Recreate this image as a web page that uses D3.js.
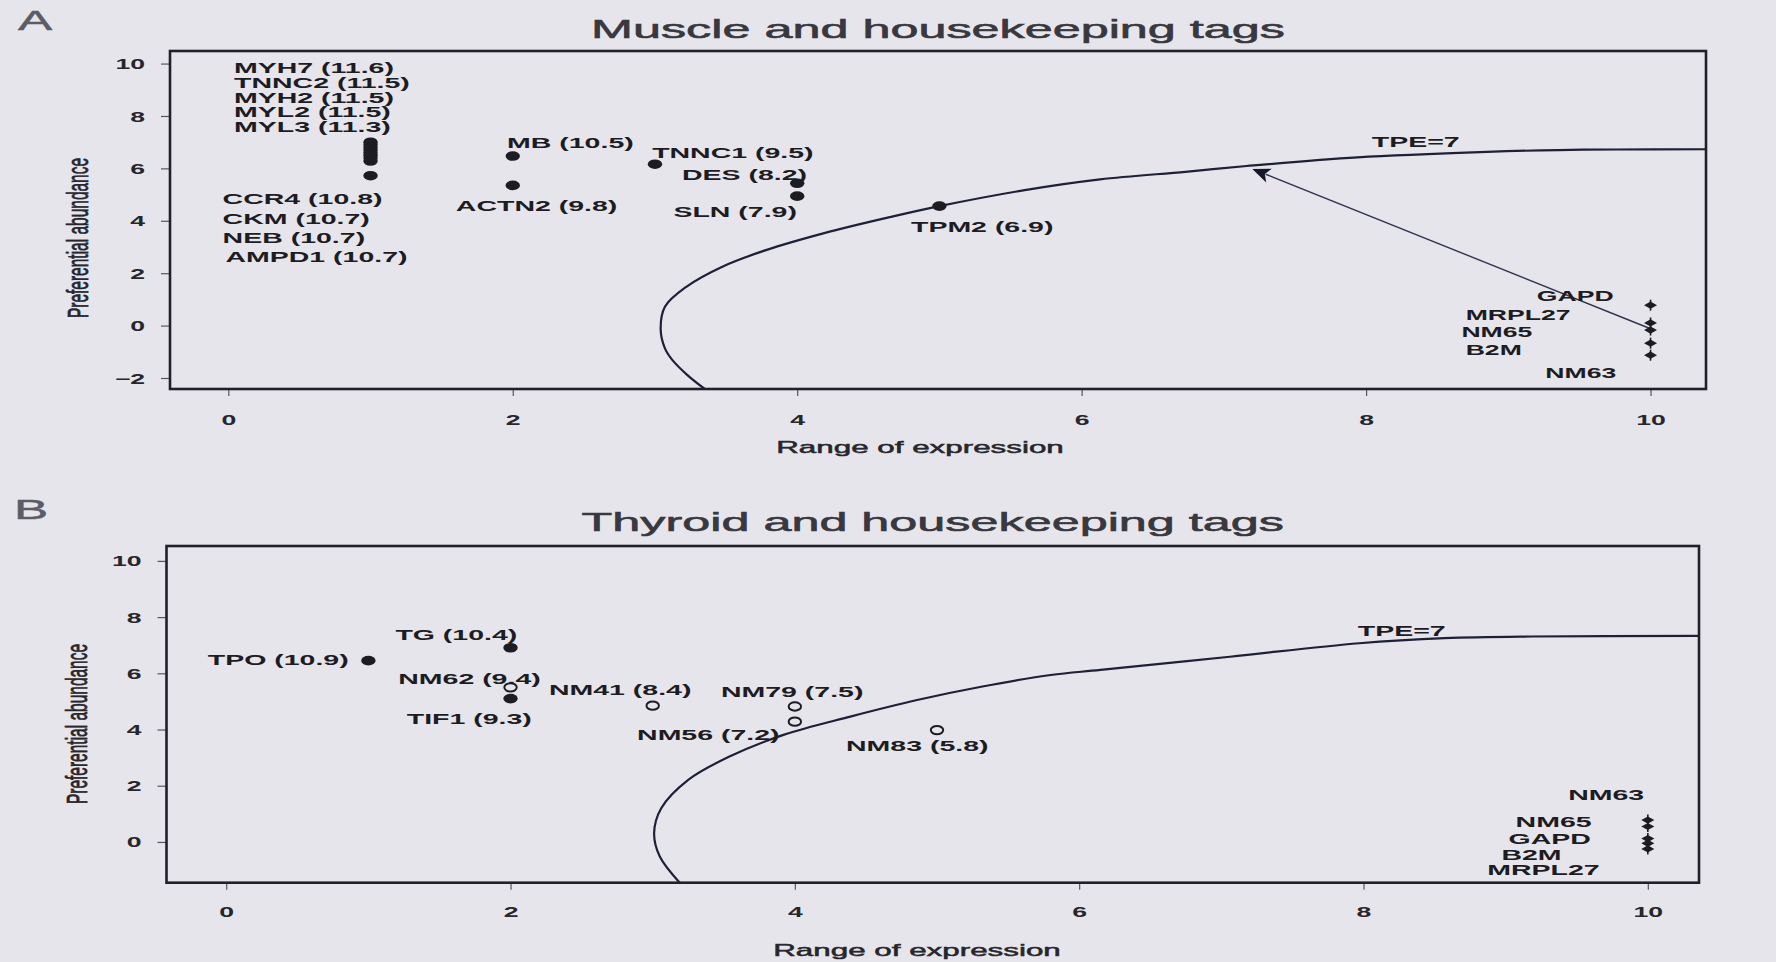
<!DOCTYPE html>
<html>
<head>
<meta charset="utf-8">
<script src="https://cdn.jsdelivr.net/npm/d3@7"></script>
<style>
  html, body { margin: 0; padding: 0; background: #e7e5ec; }
  svg { display: block; }
</style>
</head>
<body>
<svg id="fig" width="1776" height="962"></svg>
<script>
// ---------------- Panel A: muscle tags ----------------
const muscleTags   = ["MYH7", "TNNC2", "MYH2", "MYL2", "MYL3", "CCR4", "CKM", "NEB", "AMPD1", "MB", "ACTN2", "TNNC1", "DES", "SLN", "TPM2"];
const muscleMax    = [11.6, 11.5, 11.5, 11.5, 11.3, 10.8, 10.7, 10.7, 10.7, 10.5, 9.8, 9.5, 8.2, 7.9, 6.9];
const muscleRange  = [1, 1, 1, 1, 1, 1, 1, 1, 1, 2, 2, 3, 4, 4, 5];
const muscleAbund  = [7.0, 6.9, 6.8, 6.7, 6.6, 6.5, 6.4, 6.28, 5.72, 6.47, 5.35, 6.16, 5.43, 4.94, 4.56];
// label anchors (data units, left edge / vertical centre)
const muscleLabelX = [0.04, 0.04, 0.04, 0.04, 0.04, -0.04, -0.04, -0.04, -0.02, 1.96, 1.60, 2.98, 3.19, 3.13, 4.80];
const muscleLabelY = [9.83, 9.27, 8.71, 8.15, 7.58, 4.85, 4.08, 3.34, 2.61, 6.98, 4.56, 6.60, 5.74, 4.34, 3.77];

const hkTagsA   = ["GAPD", "MRPL27", "NM65", "B2M", "NM63"];
const hkRangeA  = [10, 10, 10, 10, 10];
const hkAbundA  = [0.78, 0.10, -0.17, -0.67, -1.13];
const hkLabelXA = [9.20, 8.70, 8.67, 8.70, 9.26];
const hkLabelYA = [1.13, 0.40, -0.24, -0.94, -1.81];

// TPE = 7 boundary, panel A
const tpeAx = [3.35, 3.23, 3.12, 3.07, 3.04, 3.07, 3.22, 3.47, 3.78, 4.19, 4.66, 5.0, 5.6, 6.13, 6.73, 7.16, 7.94, 8.85, 9.35, 9.76, 10.39];
const tpeAy = [-2.42, -1.9, -1.3, -0.87, -0.15, 0.72, 1.48, 2.24, 2.88, 3.53, 4.15, 4.56, 5.17, 5.58, 5.87, 6.09, 6.42, 6.63, 6.70, 6.72, 6.73];
const tpeLabelA = [8.04, 7.02];
const arrowFromA = [10, -0.12];
const arrowToA   = [7.2, 5.98];

// ---------------- Panel B: thyroid tags ----------------
const thyroidTags   = ["TPO", "TG", "NM62", "TIF1", "NM41", "NM79", "NM56", "NM83"];
const thyroidMax    = [10.9, 10.4, 9.4, 9.3, 8.4, 7.5, 7.2, 5.8];
const thyroidRange  = [1, 2, 2, 2, 3, 4, 4, 5];
const thyroidAbund  = [6.45, 6.91, 5.5, 5.1, 4.85, 4.82, 4.28, 3.98];
const thyroidKnown  = [true, true, false, true, false, false, false, false];
const thyroidLabelX = [-0.13, 1.19, 1.21, 1.27, 2.27, 3.48, 2.89, 4.36];
const thyroidLabelY = [6.48, 7.37, 5.79, 4.40, 5.41, 5.35, 3.81, 3.42];

const hkTagsB   = ["NM63", "NM65", "GAPD", "B2M", "MRPL27"];
const hkRangeB  = [10, 10, 10, 10, 10];
const hkAbundB  = [0.78, 0.55, 0.12, -0.05, -0.25];
const hkLabelXB = [9.44, 9.07, 9.02, 8.97, 8.87];
const hkLabelYB = [1.67, 0.72, 0.13, -0.46, -1.0];

const tpeBx = [3.19, 3.05, 3.01, 3.06, 3.25, 3.54, 3.92, 4.39, 4.86, 5.32, 5.80, 6.15, 7.06, 7.97, 8.57, 9.18, 10.36];
const tpeBy = [-1.45, -0.52, 0.31, 1.2, 2.21, 3.04, 3.81, 4.46, 5.05, 5.53, 5.94, 6.12, 6.59, 7.07, 7.25, 7.31, 7.33];
const tpeLabelB = [7.96, 7.51];

// axis ticks
const xTicks  = [0, 2, 4, 6, 8, 10];
const yTicksA = [-2, 0, 2, 4, 6, 8, 10];
const yTicksB = [0, 2, 4, 6, 8, 10];

// ---------------- drawing ----------------
const W = 1776, H = 962;
const SX = 1.9;                      // horizontal stretch of the printed figure
const SANS = '"Liberation Sans", Arial, Helvetica, sans-serif';
const INK = "#1c1c22";

const svg = d3.select("#fig");
svg.append("rect").attr("width", W).attr("height", H).attr("fill", "#e7e5ec");

function stretchedText(g, x, y, s, o = {}) {
  const t = g.append("text")
    .attr("transform", `translate(${x},${y}) scale(${SX},1)` + (o.rotate ? " rotate(-90)" : ""))
    .attr("font-family", SANS)
    .attr("font-size", o.size || 15)
    .attr("font-weight", o.weight || "bold")
    .attr("text-anchor", o.anchor || "start")
    .attr("dy", o.dy == null ? "0.35em" : o.dy)
    .attr("fill", o.fill || INK)
    .text(s);
  if (o.heavy) t.attr("stroke", o.fill || INK).attr("stroke-width", o.heavy);
  return t;
}

function hkMarker(g, cx, cy) {
  g.append("path")
    .attr("d", `M${cx - 6.5},${cy} L${cx},${cy - 3.6} L${cx + 6.5},${cy} L${cx},${cy + 3.6} Z`)
    .attr("fill", INK);
  g.append("line")
    .attr("x1", cx).attr("x2", cx).attr("y1", cy - 5.5).attr("y2", cy + 5.5)
    .attr("stroke", INK).attr("stroke-width", 1.6);
}

function drawPanel(cfg) {
  const { id, box } = cfg;
  const x = d3.scaleLinear().domain(cfg.xDomain).range([box.left, box.right]);
  const y = d3.scaleLinear().domain(cfg.yDomain).range([box.bottom, box.top]);
  const g = svg.append("g").attr("class", "panel-" + id);

  svg.append("clipPath").attr("id", "clip-" + id)
    .append("rect")
    .attr("x", box.left).attr("y", box.top)
    .attr("width", box.right - box.left).attr("height", box.bottom - box.top);

  // panel letter and title
  stretchedText(g, cfg.letterPos[0], cfg.letterPos[1], cfg.letter,
    { size: 27, weight: "normal", anchor: "middle", fill: "#5c5c66", heavy: 0.5 });
  stretchedText(g, (box.left + box.right) / 2, cfg.titleBaseline, cfg.title,
    { size: 26.5, weight: "normal", anchor: "middle", dy: 0, fill: "#38383e", heavy: 0.6 });

  // y axis
  const ya = g.append("g").attr("transform", `translate(${box.left},0)`)
    .call(d3.axisLeft(y).tickValues(cfg.yTicks).tickSize(9).tickFormat(d3.format("d")));
  ya.select(".domain").remove();
  ya.selectAll(".tick line").attr("stroke", "#55556a").attr("stroke-width", 1.2);
  ya.selectAll(".tick text")
    .attr("x", -25 / SX).attr("dy", "0.36em")
    .attr("transform", `scale(${SX},1)`)
    .attr("font-family", SANS).attr("font-size", 14).attr("font-weight", "bold")
    .attr("fill", "#26262c");

  // x axis
  const xa = g.append("g").attr("transform", `translate(0,${box.bottom})`)
    .call(d3.axisBottom(x).tickValues(xTicks).tickSize(7).tickFormat(d3.format("d")));
  xa.select(".domain").remove();
  xa.selectAll(".tick line").attr("stroke", "#55556a").attr("stroke-width", 1.2);
  xa.selectAll(".tick text")
    .attr("y", cfg.xLabelOffset).attr("dy", "0.36em")
    .attr("transform", `scale(${SX},1)`)
    .attr("font-family", SANS).attr("font-size", 14).attr("font-weight", "bold")
    .attr("fill", "#26262c");

  // axis titles
  stretchedText(g, cfg.xTitlePos[0], cfg.xTitlePos[1], "Range of expression",
    { size: 16.5, weight: "normal", anchor: "middle", fill: "#26262c", heavy: 0.5 });
  stretchedText(g, cfg.yTitlePos[0], cfg.yTitlePos[1], "Preferential abundance",
    { size: 15.5, weight: "normal", anchor: "middle", rotate: true, fill: "#26262c", heavy: 0.4 });

  // TPE boundary
  const line = d3.line()
    .x(d => x(d[0])).y(d => y(d[1]))
    .curve(d3.curveCatmullRom.alpha(0.5));
  g.append("path")
    .datum(d3.zip(cfg.curveX, cfg.curveY))
    .attr("clip-path", `url(#clip-${id})`)
    .attr("d", line)
    .attr("fill", "none")
    .attr("stroke", "#1d2036")
    .attr("stroke-width", 2.2);
  stretchedText(g, x(cfg.tpeLabel[0]), y(cfg.tpeLabel[1]), "TPE=7", { size: 15 });

  // frame
  g.append("rect")
    .attr("x", box.left).attr("y", box.top)
    .attr("width", box.right - box.left).attr("height", box.bottom - box.top)
    .attr("fill", "none").attr("stroke", "#202028").attr("stroke-width", 2.6);

  // optional arrow from housekeeping tags to the boundary
  if (cfg.arrowFrom) {
    const x0 = x(cfg.arrowFrom[0]), y0 = y(cfg.arrowFrom[1]);
    const x1 = x(cfg.arrowTo[0]), y1 = y(cfg.arrowTo[1]);
    const len = Math.hypot(x0 - x1, y0 - y1);
    const ux = (x0 - x1) / len, uy = (y0 - y1) / len;
    const L = 18, Wd = 7.5;
    g.append("line")
      .attr("x1", x0).attr("y1", y0).attr("x2", x1 + ux * L * 0.8).attr("y2", y1 + uy * L * 0.8)
      .attr("stroke", "#2e3350").attr("stroke-width", 1.4);
    g.append("path")
      .attr("d", `M${x1},${y1} L${x1 + ux * L - uy * Wd},${y1 + uy * L + ux * Wd} L${x1 + ux * L * 0.75},${y1 + uy * L * 0.75} L${x1 + ux * L + uy * Wd},${y1 + uy * L - ux * Wd} Z`)
      .attr("fill", "#15182a");
  }

  // tag points
  cfg.points.forEach(p => {
    const cx = x(p.x), cy = y(p.y);
    if (p.kind === "filled") {
      g.append("ellipse").attr("cx", cx).attr("cy", cy).attr("rx", 7.2).attr("ry", 4.8).attr("fill", INK);
    } else if (p.kind === "open") {
      g.append("ellipse").attr("cx", cx).attr("cy", cy).attr("rx", 6.2).attr("ry", 4.2)
        .attr("fill", "none").attr("stroke", INK).attr("stroke-width", 2);
    } else {
      hkMarker(g, cx, cy);
    }
  });

  // tag labels
  cfg.labels.forEach(l => {
    stretchedText(g, x(l.x), y(l.y), l.text, { size: l.size || 15 });
  });
}

// ---- assemble panel A ----
const pointsA = muscleTags.map((t, i) => ({ x: muscleRange[i], y: muscleAbund[i], kind: "filled" }))
  .concat(hkTagsA.map((t, i) => ({ x: hkRangeA[i], y: hkAbundA[i], kind: "hk" })));
const labelsA = muscleTags.map((t, i) => ({ text: `${t} (${muscleMax[i].toFixed(1)})`, x: muscleLabelX[i], y: muscleLabelY[i] }))
  .concat(hkTagsA.map((t, i) => ({ text: t, x: hkLabelXA[i], y: hkLabelYA[i], size: 14 })));

drawPanel({
  id: "a", letter: "A", letterPos: [35, 21],
  title: "Muscle and housekeeping tags", titleBaseline: 38,
  box: { left: 170, right: 1706, top: 51, bottom: 389 },
  xDomain: [-0.41, 10.39], yDomain: [-2.42, 10.48], yTicks: yTicksA,
  xLabelOffset: 31,
  xTitlePos: [920, 447], yTitlePos: [78, 238],
  curveX: tpeAx, curveY: tpeAy, tpeLabel: tpeLabelA,
  arrowFrom: arrowFromA, arrowTo: arrowToA,
  points: pointsA, labels: labelsA
});

// ---- assemble panel B ----
const pointsB = thyroidTags.map((t, i) => ({ x: thyroidRange[i], y: thyroidAbund[i], kind: thyroidKnown[i] ? "filled" : "open" }))
  .concat(hkTagsB.map((t, i) => ({ x: hkRangeB[i], y: hkAbundB[i], kind: "hk" })));
const labelsB = thyroidTags.map((t, i) => ({ text: `${t} (${thyroidMax[i].toFixed(1)})`, x: thyroidLabelX[i], y: thyroidLabelY[i] }))
  .concat(hkTagsB.map((t, i) => ({ text: t, x: hkLabelXB[i], y: hkLabelYB[i] })));

drawPanel({
  id: "b", letter: "B", letterPos: [31, 510],
  title: "Thyroid and housekeeping tags", titleBaseline: 531,
  box: { left: 166.5, right: 1699, top: 546, bottom: 882.7 },
  xDomain: [-0.42, 10.36], yDomain: [-1.45, 10.53], yTicks: yTicksB,
  xLabelOffset: 29,
  xTitlePos: [917, 950], yTitlePos: [77, 724],
  curveX: tpeBx, curveY: tpeBy, tpeLabel: tpeLabelB,
  points: pointsB, labels: labelsB
});
</script>
</body>
</html>
